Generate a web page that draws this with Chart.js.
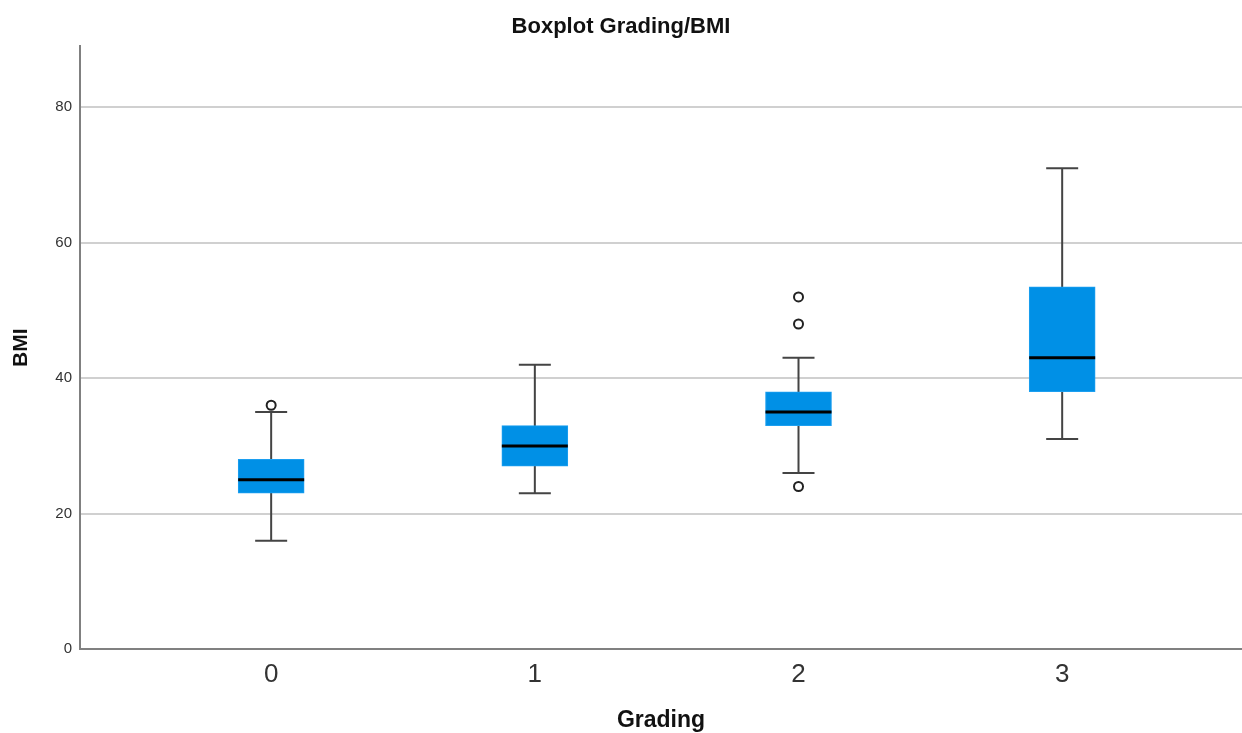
<!DOCTYPE html>
<html>
<head>
  <title>Boxplot Grading/BMI</title>
  <style>
    body { margin: 0; background: #fff; }
    #wrap { width: 1242px; height: 733px; }
  </style>
</head>
<body>
  <div id="wrap"><canvas id="chart"></canvas></div>

  <script src="https://cdn.jsdelivr.net/npm/chart.js"></script>
  <script>
    // values
    const grades = ['0', '1', '2', '3'];
    const whiskerLow = [16, 23, 26, 31];
    const q1 = [23, 27, 33, 38];
    const medians = [25, 30, 35, 43];
    const q3 = [28, 33, 38, 53.5];
    const whiskerHigh = [35, 42, 43, 71];
    const outliers = [[36], [], [24, 48, 52], []];
    const yTicks = [0, 20, 40, 60, 80];

    const font = "'Liberation Sans', Arial, sans-serif";

    const boxData = grades.map((g, i) => ({ x: i, y: [q1[i], q3[i]] }));
    const outlierData = [];
    outliers.forEach((list, i) => list.forEach(v => outlierData.push({ x: i, y: v })));

    // whiskers go behind the boxes, medians on top
    const boxParts = {
      id: 'boxParts',
      beforeDatasetsDraw(chart) {
        const ctx = chart.ctx, xs = chart.scales.x, ys = chart.scales.y;
        ctx.save();
        ctx.strokeStyle = '#444';
        ctx.lineWidth = 2;
        grades.forEach((g, i) => {
          const px = xs.getPixelForValue(i);
          const lo = ys.getPixelForValue(whiskerLow[i]);
          const hi = ys.getPixelForValue(whiskerHigh[i]);
          ctx.beginPath();
          ctx.moveTo(px, lo); ctx.lineTo(px, hi);
          ctx.moveTo(px - 16, lo); ctx.lineTo(px + 16, lo);
          ctx.moveTo(px - 16, hi); ctx.lineTo(px + 16, hi);
          ctx.stroke();
        });
        ctx.restore();
      },
      afterDatasetDraw(chart, args) {
        if (args.index !== 0) return;
        const ctx = chart.ctx, xs = chart.scales.x, ys = chart.scales.y;
        ctx.save();
        ctx.strokeStyle = '#000';
        ctx.lineWidth = 3;
        grades.forEach((g, i) => {
          const px = xs.getPixelForValue(i);
          const py = ys.getPixelForValue(medians[i]);
          ctx.beginPath();
          ctx.moveTo(px - 33, py); ctx.lineTo(px + 33, py);
          ctx.stroke();
        });
        ctx.restore();
      }
    };

    new Chart(document.getElementById('chart'), {
      type: 'bar',
      data: {
        datasets: [{
          type: 'bar',
          data: boxData,
          backgroundColor: '#0090e6',
          borderColor: '#1c9ff0',
          borderWidth: 1,
          borderSkipped: false,
          barThickness: 66
        }, {
          type: 'scatter',
          data: outlierData,
          pointStyle: 'circle',
          pointRadius: 4.5,
          pointBorderWidth: 2,
          borderColor: '#222',
          backgroundColor: '#fff'
        }]
      },
      options: {
        responsive: true,
        maintainAspectRatio: false,
        animation: false,
        layout: { padding: 0, autoPadding: false },
        plugins: {
          legend: { display: false },
          tooltip: { enabled: false },
          title: {
            display: true,
            text: 'Boxplot Grading/BMI',
            color: '#111',
            font: { family: font, size: 22, weight: 'bold' },
            padding: { top: 14, bottom: 6 }
          }
        },
        scales: {
          x: {
            type: 'linear',
            offset: false,
            min: -0.725,
            max: 3.682,
            afterBuildTicks: s => { s.ticks = grades.map((g, i) => ({ value: i })); },
            afterFit: s => { s.height = 84; s.paddingLeft = 0; s.paddingRight = 0; },
            grid: { display: false, drawTicks: false },
            border: { display: true, color: '#808080', width: 2 },
            ticks: {
              padding: 10,
              color: '#333',
              font: { family: "'Liberation Sans Narrow', " + font, size: 26 },
              callback: v => grades[v]
            },
            title: {
              display: true,
              text: 'Grading',
              color: '#111',
              font: { family: font, size: 23, weight: 'bold', lineHeight: 1.1 },
              padding: { top: 0, bottom: 0 }
            }
          },
          y: {
            min: 0,
            max: 89,
            afterBuildTicks: s => { s.ticks = yTicks.map(v => ({ value: v })); },
            afterFit: s => { s.width = 80; },
            grid: { color: '#d0d0d0', lineWidth: 2, drawTicks: false },
            border: { display: true, color: '#808080', width: 2 },
            ticks: {
              padding: 8,
              color: '#333',
              font: { family: font, size: 15 }
            },
            title: {
              display: true,
              text: 'BMI',
              color: '#111',
              font: { family: font, size: 21, weight: 'bold' },
              padding: { top: 9, bottom: 0 }
            }
          }
        }
      },
      plugins: [boxParts]
    });
  </script>
</body>
</html>
